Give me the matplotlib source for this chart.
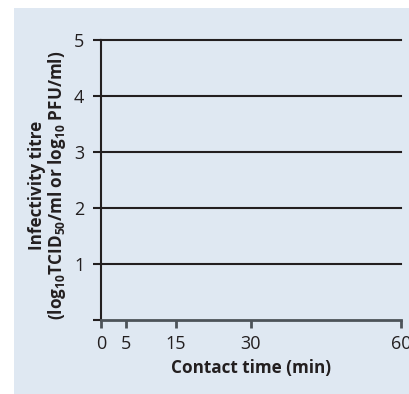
import matplotlib
matplotlib.use("Agg")
import matplotlib.pyplot as plt
from matplotlib.patches import Rectangle

# data
x_ticks = [0, 5, 15, 30, 60]
x_tick_labels = ["0", "5", "15", "30", "60"]
y_ticks = [0, 1, 2, 3, 4, 5]
y_tick_labels = ["", "1", "2", "3", "4", "5"]
grid_levels = [1, 2, 3, 4, 5]
x_label = "Contact time (min)"
y_label = "Infectivity titre\n(log$_{10}$TCID$_{50}$/ml or log$_{10}$ PFU/ml)"

plt.rcParams["font.family"] = ["Open Sans", "DejaVu Sans"]
plt.rcParams["mathtext.fontset"] = "custom"
plt.rcParams["mathtext.rm"] = "Open Sans:bold"
plt.rcParams["mathtext.it"] = "Open Sans:bold"
plt.rcParams["mathtext.bf"] = "Open Sans:bold"
plt.rcParams["mathtext.default"] = "rm"

W, H = 410, 394
fig = plt.figure(figsize=(W / 100, H / 100), dpi=100)
fig.patch.set_facecolor("white")
bg = "#dfe8f2"
fig.patches.append(Rectangle((14 / W, 0), 1 - 14 / W, (H - 8) / H,
                             transform=fig.transFigure, facecolor=bg,
                             edgecolor="none", zorder=-10))

left, right, top, bottom = 101, 401, 40, 320
ax = fig.add_axes([left / W, (H - bottom) / H, (right - left) / W, (bottom - top) / H])
ax.set_facecolor("none")
ax.set_xlim(0, 60)
ax.set_ylim(0, 5)

dark = "#231f20"
gray = "#4d5359"
for y in grid_levels:
    ax.axhline(y, color=dark, lw=1.5, zorder=1, clip_on=False)

for s in ["top", "right"]:
    ax.spines[s].set_visible(False)
ax.spines["left"].set_color(dark)
ax.spines["left"].set_linewidth(1.5)
ax.spines["bottom"].set_color(gray)
ax.spines["bottom"].set_linewidth(2)
ax.spines["bottom"].set_zorder(3)

ax.set_xticks(x_ticks)
ax.set_xticklabels(x_tick_labels)
ax.set_yticks(y_ticks)
ax.set_yticklabels(y_tick_labels)
ax.tick_params(axis="x", direction="out", length=6, width=2, color=gray,
               labelsize=13, labelcolor=dark, pad=5)
ax.tick_params(axis="y", direction="out", length=6, width=1.5, color=dark,
               labelsize=13, labelcolor=dark, pad=6)

ax.set_xlabel(x_label, fontsize=12.3, fontweight="bold", color=dark, labelpad=4)
ax.set_ylabel(y_label, fontsize=12.3, fontweight="bold", color=dark,
              linespacing=1.0)
ax.yaxis.set_label_coords(-0.11, 0.48)

fig.savefig("out.png", dpi=100, facecolor="white")
